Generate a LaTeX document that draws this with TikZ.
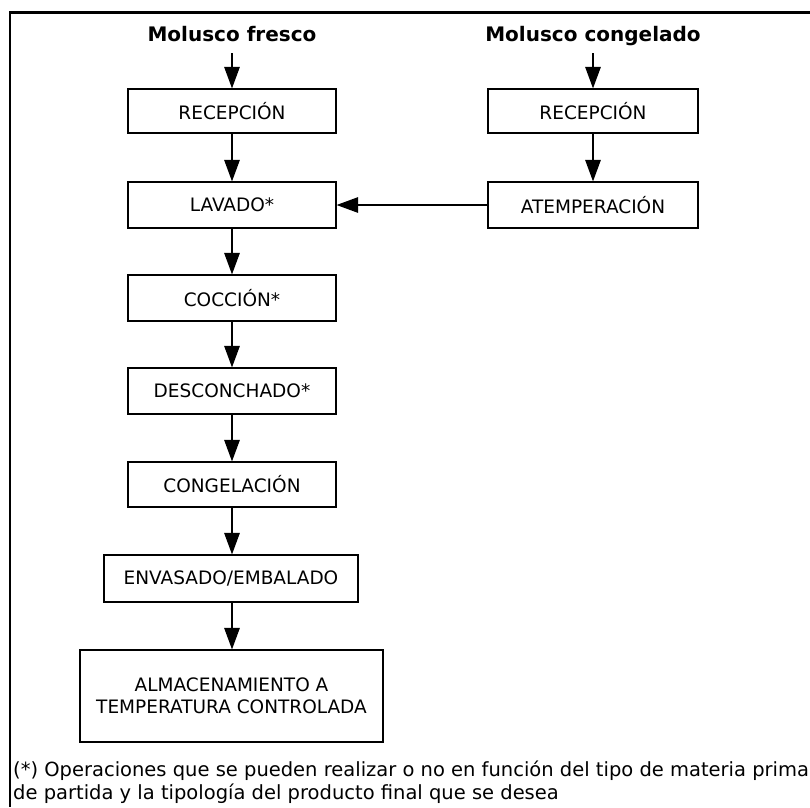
\documentclass[tikz,border=0pt]{standalone}
\usepackage{fontspec}
\setmainfont{DejaVu Sans}
\usetikzlibrary{arrows.meta}
\begin{document}
\begin{tikzpicture}[x=1pt,y=-1pt,
  stepbox/.style={draw, line width=1.2pt, inner sep=0pt, align=center,
    font=\fontsize{18.5}{22}\selectfont},
  heading/.style={inner sep=0pt, anchor=base, text height=15pt, text depth=11.3pt,
    font=\fontsize{20}{24}\selectfont\bfseries},
  note/.style={inner sep=0pt, anchor=base west, font=\fontsize{19.5}{23}\selectfont},
  flow/.style={line width=1.3pt, -{Triangle[length=21.5pt,width=15.5pt]}},
  frame/.style={line width=2.6pt}]
  \useasboundingbox (0,0) rectangle (810,807);
  \fill[white] (0,0) rectangle (810,807);

  % outer frame (open to the right and bottom)
  \draw[frame] (810,12.5) -- (10,12.5) -- (10,807);

  % headings
  \node[heading] (hL) at (232,41.7) {Molusco fresco};
  \node[heading] (hR) at (593,41.7) {Molusco congelado};

  % left column
  \node[stepbox, minimum width=208pt, minimum height=44pt] (recL) at (232,111) {RECEPCIÓN};
  \node[stepbox, minimum width=208pt, minimum height=46pt] (lav)  at (232,205) {LAVADO*};
  \node[stepbox, minimum width=208pt, minimum height=46pt] (coc)  at (232,298) {COCCIÓN*};
  \node[stepbox, minimum width=208pt, minimum height=46pt] (des)  at (232,391) {DESCONCHADO*};
  \node[stepbox, minimum width=208pt, minimum height=45pt] (cong) at (232,484.5) {CONGELACIÓN};
  \node[stepbox, minimum width=254pt, minimum height=47pt] (env)  at (231,578.5) {ENVASADO/EMBALADO};
  \node[stepbox, minimum width=303pt, minimum height=92pt] (alm)  at (231.5,696)
    {ALMACENAMIENTO A\\TEMPERATURA CONTROLADA};

  % right column
  \node[stepbox, minimum width=210pt, minimum height=44pt] (recR) at (593,111) {RECEPCIÓN};
  \node[stepbox, minimum width=210pt, minimum height=46pt] (atem) at (593,205) {ATEMPERACIÓN};

  % connectors
  \draw[flow] (hL) -- (recL);
  \draw[flow] (recL) -- (lav);
  \draw[flow] (lav) -- (coc);
  \draw[flow] (coc) -- (des);
  \draw[flow] (des) -- (cong);
  \draw[flow] (cong.south -| lav) -- (env.north -| lav);
  \draw[flow] (env.south -| lav) -- (alm.north -| lav);
  \draw[flow] (hR) -- (recR);
  \draw[flow] (recR) -- (atem);
  \draw[flow] (atem) -- (lav);

  % footnote
  \node[note] (n1) at (13,776) {(*) Operaciones que se pueden realizar o no en función del tipo de materia prima};
  \node[note] (n2) at (13,799) {de partida y la tipología del producto final que se desea};
\end{tikzpicture}
\end{document}
